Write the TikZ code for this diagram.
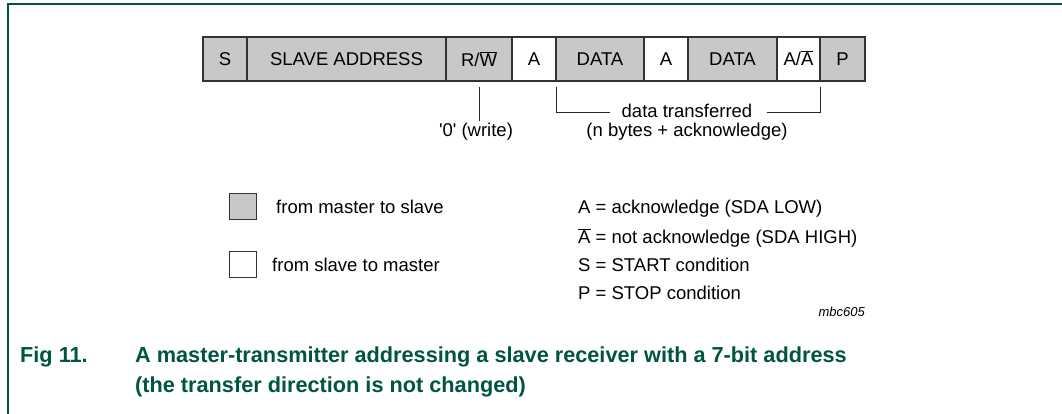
\documentclass[tikz,border=0pt]{standalone}
\usepackage{fontspec}
\setmainfont{Liberation Sans}[Ligatures=TeXOff]
\definecolor{nxpgreen}{RGB}{0,85,66}
\definecolor{boxgrey}{RGB}{200,200,200}
\newcommand{\fsmain}{\fontsize{18.5}{22}\selectfont}
\newcommand{\ovbar}[1]{$\overline{\mbox{#1}}$}
\begin{document}
\begin{tikzpicture}[x=1pt,y=-1pt,
  fld/.style={draw=black!80, line width=1.3pt, minimum height=44pt, inner sep=0pt,
              outer sep=0pt, anchor=north west, font=\fsmain},
  mfld/.style={fld, fill=boxgrey},
  sfld/.style={fld, fill=white},
  lbl/.style={inner sep=0pt, anchor=base west, font=\fsmain},
  clbl/.style={inner sep=0pt, anchor=base, font=\fsmain},
  conn/.style={draw=black!85, line width=1pt},
  key/.style={draw=black!80, line width=1.2pt, minimum width=27pt, minimum height=26pt,
              inner sep=0pt, anchor=north west},
  figcaption/.style={inner sep=0pt, anchor=base west, text=nxpgreen,
              font=\fontsize{21.7}{25}\selectfont\bfseries},
  frameline/.style={draw=nxpgreen, line width=2pt}]
\useasboundingbox (0,0) rectangle (1062,414);
% frame
\coordinate (fbl) at (8,414);
\coordinate (ftl) at (8,4);
\coordinate (ftr) at (1062,4);
\draw[frameline] (fbl) -- (ftl) -- (ftr);
% fields
\node[mfld, minimum width=44pt]  (s)   at (203,37) {S};
\node[mfld, minimum width=199pt] (sa)  at (s.north east) {SLAVE ADDRESS};
\node[mfld, minimum width=66pt]  (rw)  at (sa.north east) {R/\ovbar{W}};
\node[sfld, minimum width=44pt]  (a1)  at (rw.north east) {A};
\node[mfld, minimum width=88pt]  (d1)  at (a1.north east) {DATA};
\node[sfld, minimum width=44pt]  (a2)  at (d1.north east) {A};
\node[mfld, minimum width=89pt]  (d2)  at (a2.north east) {DATA};
\node[sfld, minimum width=43pt]  (aa)  at (d2.north east) {\raisebox{1.5pt}{A/\ovbar{A}}};
\node[mfld, minimum width=45pt]  (p)   at (aa.north east) {P};
% R/W annotation
\coordinate (rwtop) at ([yshift=-6pt]rw.south);
\coordinate (rwbot) at (rw.south |- 0,121);
\draw[conn] (rwtop) -- (rwbot);
\node[clbl] (wr) at (476,137) {\textquotesingle 0\textquotesingle\ (write)};
% data transferred bracket
\coordinate (bl1) at ([yshift=-6pt]d1.south west);
\coordinate (bl2) at (d1.south west |- 0,113);
\coordinate (bl3) at (610,113);
\coordinate (br1) at ([yshift=-6pt]aa.south east);
\coordinate (br2) at (aa.south east |- 0,113);
\coordinate (br3) at (767,113);
\draw[conn] (bl1) -- (bl2) -- (bl3);
\draw[conn] (br1) -- (br2) -- (br3);
\node[clbl] (dt)  at (687,118) {data transferred};
\node[clbl] (dt2) at (687,137) {(n bytes + acknowledge)};
% key
\node[key, fill=boxgrey] (kg) at (229,193) {};
\node[lbl] (kgt) at (276,214) {from master to slave};
\node[key, fill=white] (kw) at (229,251) {};
\node[lbl] (kwt) at (272,271) {from slave to master};
\node[lbl] (l1) at (578,213) {A = acknowledge (SDA LOW)};
\node[lbl] (l2) at (578,243) {\ovbar{A} = not acknowledge (SDA HIGH)};
\node[lbl] (l3) at (578,271) {S = START condition};
\node[lbl] (l4) at (578,299) {P = STOP condition};
\node[inner sep=0pt, anchor=base east, font=\fontsize{13}{15}\selectfont\itshape] (id) at (865,316) {mbc605};
% caption
\node[figcaption] (c0) at (20,362) {Fig 11.};
\node[figcaption] (c1) at (135,362) {A master-transmitter addressing a slave receiver with a 7-bit address};
\node[figcaption] (c2) at (135,392) {(the transfer direction is not changed)};
\end{tikzpicture}
\end{document}
